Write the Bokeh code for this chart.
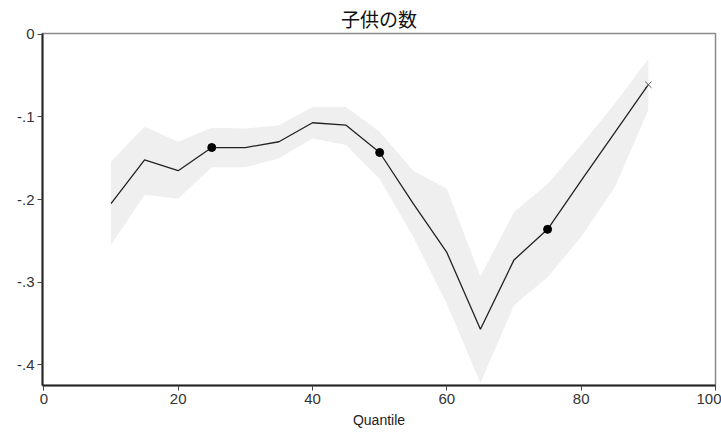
from bokeh.plotting import figure
from bokeh.models import Range1d, FixedTicker
from bokeh.embed import file_html
from bokeh.resources import INLINE

quantile = [10, 15, 20, 25, 30, 35, 40, 45, 50, 55, 60, 65, 70, 75, 80, 85, 90]
estimate = [-0.205, -0.152, -0.165, -0.137, -0.137, -0.130, -0.107, -0.110, -0.143,
            -0.205, -0.264, -0.357, -0.273, -0.236, -0.177, -0.119, -0.061]
upper = [-0.154, -0.112, -0.130, -0.113, -0.114, -0.110, -0.088, -0.088, -0.118,
         -0.165, -0.187, -0.293, -0.215, -0.181, -0.134, -0.084, -0.030]
lower = [-0.255, -0.194, -0.199, -0.161, -0.161, -0.150, -0.126, -0.134, -0.175,
         -0.245, -0.326, -0.422, -0.328, -0.294, -0.245, -0.185, -0.092]
quartile_q = [25, 50, 75]
quartile_est = [-0.137, -0.143, -0.236]
last_q = [90]
last_est = [-0.061]

x_ticks = [0, 20, 40, 60, 80, 100]
y_ticks = [0, -0.1, -0.2, -0.3, -0.4]
y_tick_labels = ["0", "-.1", "-.2", "-.3", "-.4"]

p = figure(width=721, height=435, output_backend="svg", toolbar_location=None,
           x_range=Range1d(-0.2, 100.0), y_range=Range1d(-0.425, 0.001),
           min_border_left=42, min_border_right=6, min_border_top=33, min_border_bottom=50)

p.title.text = "子供の数"
p.title.align = "center"
p.title.text_font = "Noto Sans CJK JP"
p.title.text_font_size = "19px"
p.title.text_font_style = "normal"
p.title.text_color = "#111111"
p.title.offset = 0
p.title.standoff = 4

p.varea(x=quantile, y1=lower, y2=upper, fill_color="#efefef", fill_alpha=1.0)
p.line(quantile, estimate, line_color="#222222", line_width=1.3)
p.scatter(quartile_q, quartile_est, size=8, marker="circle", fill_color="black", line_color="black")
p.scatter(last_q, last_est, size=9, marker="x", line_color="#555555", line_width=1)

p.xgrid.visible = False
p.ygrid.visible = False
p.background_fill_color = "white"
p.border_fill_color = "white"
p.outline_line_color = "#8a8a8a"
p.outline_line_width = 1.5

p.xaxis.ticker = FixedTicker(ticks=x_ticks)
p.yaxis.ticker = FixedTicker(ticks=y_ticks)
p.yaxis.major_label_overrides = {t: l for t, l in zip(y_ticks, y_tick_labels)}
p.xaxis.axis_label = "Quantile"

for ax in (p.xaxis, p.yaxis):
    ax.axis_line_color = "#222222"
    ax.axis_line_width = 2
    ax.major_tick_line_color = "#444444"
    ax.major_tick_out = 5
    ax.major_tick_in = 0
    ax.minor_tick_out = 0
    ax.minor_tick_in = 0
    ax.major_label_text_font = "Liberation Sans"
    ax.major_label_text_font_size = "15px"
    ax.major_label_text_color = "#333333"
    ax.major_label_standoff = 3
    ax.axis_label_text_font = "Liberation Sans"
    ax.axis_label_text_font_size = "14px"
    ax.axis_label_text_font_style = "normal"
    ax.axis_label_text_color = "#222222"
    ax.axis_label_standoff = 5

open("out.html", "w").write(file_html(p, INLINE))
